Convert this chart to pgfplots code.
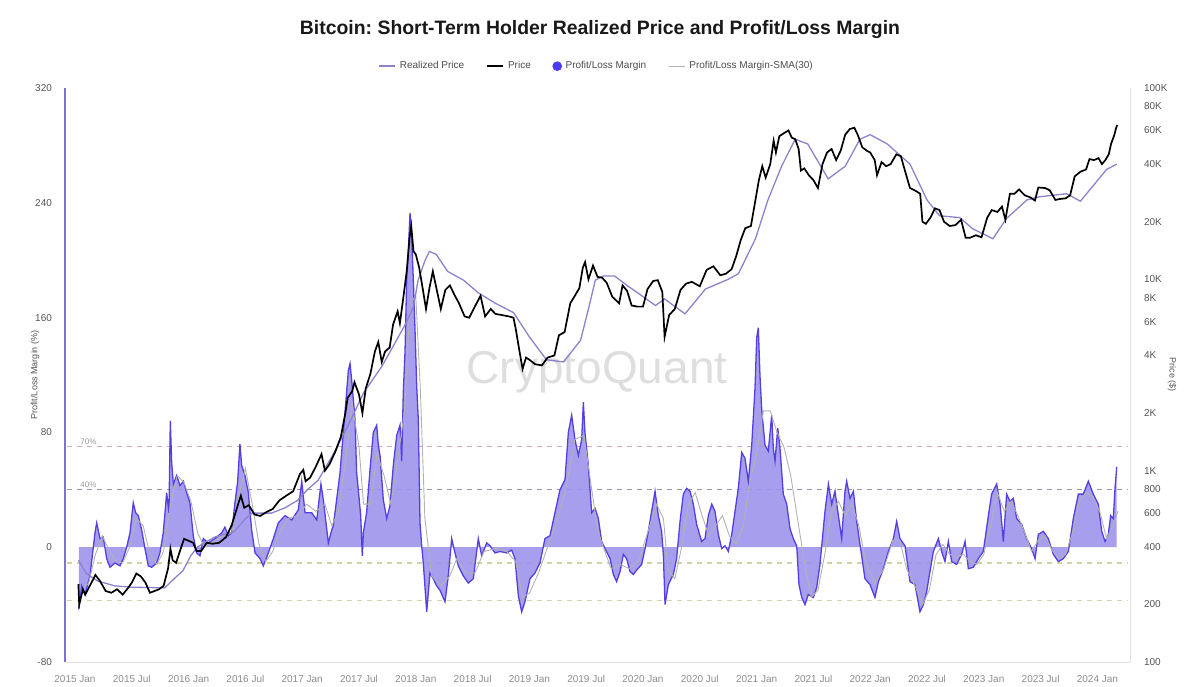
\documentclass[border=0pt]{standalone}
\usepackage{pgfplots}
\pgfplotsset{compat=1.18}
\usepackage{fontspec}
\setmainfont{Liberation Sans}
\setsansfont{Liberation Sans}
\frenchspacing

\definecolor{plfill}{RGB}{158,148,236}
\definecolor{plline}{RGB}{84,64,226}
\definecolor{plmark}{RGB}{74,60,240}
\definecolor{rpline}{RGB}{140,130,205}
\definecolor{smaline}{RGB}{178,178,178}
\definecolor{axisleft}{RGB}{124,114,218}
\definecolor{ticktext}{RGB}{85,85,85}
\definecolor{gridc}{RGB}{242,242,245}
\definecolor{lvlhigh}{RGB}{218,170,178}
\definecolor{lvlmid}{RGB}{150,146,178}
\definecolor{lvllow}{RGB}{206,214,168}

% Profit/Loss margin (%) by decimal year
\pgfplotstableread{
t v
2015.035 -43
2015.059 -27
2015.088 -33
2015.132 -20
2015.176 10
2015.191 17
2015.220 6
2015.249 7
2015.279 -8
2015.308 -14
2015.352 -11
2015.396 -13
2015.425 -8
2015.455 0
2015.484 10
2015.513 31
2015.534 24
2015.557 22
2015.587 12
2015.616 -1
2015.645 -13
2015.675 -14
2015.719 -11
2015.748 -4
2015.777 10
2015.807 38
2015.827 24
2015.839 88
2015.851 59
2015.866 44
2015.895 50
2015.924 43
2015.954 46
2015.983 38
2016.012 31
2016.041 8
2016.071 -4
2016.100 -6
2016.129 6
2016.173 3
2016.232 6
2016.291 10
2016.320 14
2016.350 8
2016.379 10
2016.408 31
2016.432 46
2016.452 72
2016.467 57
2016.496 50
2016.526 38
2016.555 12
2016.585 -4
2016.629 -8
2016.658 -13
2016.702 -4
2016.746 6
2016.790 17
2016.849 22
2016.908 19
2016.966 26
2016.996 46
2017.025 24
2017.084 24
2017.128 19
2017.165 44
2017.186 33
2017.230 3
2017.260 12
2017.274 15
2017.303 33
2017.333 52
2017.362 80
2017.391 108
2017.406 123
2017.421 128
2017.435 117
2017.450 103
2017.465 89
2017.479 52
2017.494 40
2017.515 22
2017.529 -6
2017.538 10
2017.567 24
2017.597 54
2017.626 80
2017.656 85
2017.670 71
2017.685 64
2017.714 33
2017.744 20
2017.773 29
2017.802 57
2017.832 78
2017.861 85
2017.876 60
2017.890 108
2017.905 136
2017.920 187
2017.934 206
2017.949 233
2017.964 215
2017.978 187
2017.993 152
2018.008 112
2018.022 89
2018.037 17
2018.052 1
2018.066 -11
2018.096 -45
2018.125 -18
2018.154 -22
2018.184 -27
2018.213 -30
2018.257 -38
2018.286 -20
2018.316 6
2018.345 -4
2018.374 -13
2018.418 -20
2018.462 -25
2018.506 -22
2018.550 6
2018.580 -6
2018.624 3
2018.653 1
2018.697 -4
2018.741 -3
2018.800 -4
2018.844 -2
2018.873 -8
2018.903 -34
2018.932 -45
2018.961 -38
2019.005 -22
2019.049 -18
2019.093 -11
2019.137 6
2019.181 8
2019.225 24
2019.269 40
2019.313 47
2019.343 80
2019.372 92
2019.401 75
2019.431 64
2019.460 75
2019.475 101
2019.489 80
2019.519 57
2019.548 24
2019.578 27
2019.607 20
2019.636 4
2019.666 -1
2019.710 -8
2019.739 -19
2019.768 -24
2019.798 -17
2019.827 -5
2019.856 -8
2019.886 -17
2019.915 -19
2019.944 -16
2019.988 -12
2020.018 -1
2020.047 11
2020.076 25
2020.106 39
2020.135 22
2020.164 11
2020.179 -5
2020.194 -40
2020.223 -26
2020.267 -19
2020.296 -8
2020.326 18
2020.355 37
2020.384 41
2020.414 39
2020.443 30
2020.472 16
2020.516 4
2020.546 6
2020.575 22
2020.605 30
2020.634 25
2020.663 9
2020.693 -1
2020.722 1
2020.751 -3
2020.781 9
2020.810 25
2020.839 41
2020.869 66
2020.898 62
2020.927 46
2020.957 71
2020.986 111
2021.001 146
2021.015 153
2021.030 119
2021.045 96
2021.074 71
2021.103 67
2021.133 92
2021.147 69
2021.162 60
2021.186 83
2021.206 69
2021.235 37
2021.265 30
2021.294 13
2021.323 6
2021.353 1
2021.373 -26
2021.397 -35
2021.426 -40
2021.455 -33
2021.500 -35
2021.529 -28
2021.558 -12
2021.602 25
2021.632 44
2021.661 30
2021.690 39
2021.720 22
2021.749 6
2021.778 39
2021.793 46
2021.822 34
2021.852 39
2021.881 18
2021.910 2
2021.954 -22
2021.998 -26
2022.042 -35
2022.072 -24
2022.116 -15
2022.160 -3
2022.204 6
2022.233 18
2022.262 6
2022.306 1
2022.350 -24
2022.394 -26
2022.438 -45
2022.468 -40
2022.497 -31
2022.526 -17
2022.556 -3
2022.600 6
2022.629 -3
2022.658 -10
2022.688 4
2022.717 -10
2022.761 -12
2022.805 -5
2022.835 4
2022.864 -15
2022.908 -14
2022.952 -8
2022.996 -3
2023.040 22
2023.069 37
2023.113 44
2023.143 30
2023.172 4
2023.201 37
2023.231 32
2023.260 34
2023.289 20
2023.333 16
2023.377 6
2023.421 -1
2023.451 -8
2023.480 9
2023.524 11
2023.568 6
2023.612 -5
2023.656 -10
2023.700 -8
2023.744 -3
2023.788 20
2023.832 37
2023.876 37
2023.920 46
2023.964 37
2024.008 30
2024.038 11
2024.067 4
2024.096 9
2024.117 22
2024.140 20
2024.155 41
2024.170 56
}\margin

% 30-day moving average of the margin
\pgfplotstableread{
t v
2015.06 -30
2015.12 -25
2015.18 -5
2015.24 8
2015.30 -2
2015.36 -10
2015.42 -11
2015.48 0
2015.54 20
2015.60 15
2015.66 -5
2015.72 -12
2015.78 -3
2015.84 30
2015.90 50
2015.96 45
2016.02 32
2016.08 10
2016.14 0
2016.22 4
2016.30 8
2016.38 10
2016.44 35
2016.50 55
2016.56 30
2016.62 2
2016.68 -10
2016.74 -3
2016.80 10
2016.88 20
2016.96 22
2017.04 30
2017.12 25
2017.20 30
2017.26 15
2017.32 25
2017.38 60
2017.44 100
2017.50 70
2017.54 30
2017.60 30
2017.66 65
2017.72 50
2017.78 30
2017.84 60
2017.90 95
2017.95 170
2018.00 175
2018.04 110
2018.08 20
2018.14 -20
2018.22 -27
2018.30 -20
2018.36 -8
2018.44 -18
2018.52 -18
2018.60 -3
2018.70 -1
2018.80 -3
2018.88 -10
2018.94 -35
2019.00 -32
2019.08 -18
2019.16 0
2019.24 18
2019.32 40
2019.40 75
2019.48 78
2019.54 45
2019.60 12
2019.66 -2
2019.72 -15
2019.80 -12
2019.88 -15
2019.96 -10
2020.04 10
2020.12 30
2020.18 20
2020.22 -15
2020.28 -22
2020.34 0
2020.40 30
2020.46 38
2020.52 22
2020.58 8
2020.64 15
2020.70 22
2020.76 8
2020.82 2
2020.88 15
2020.94 45
2021.00 65
2021.06 95
2021.12 95
2021.18 80
2021.24 70
2021.30 50
2021.36 20
2021.42 -10
2021.48 -35
2021.54 -30
2021.60 -5
2021.66 25
2021.72 32
2021.78 22
2021.84 30
2021.90 15
2021.96 -10
2022.04 -25
2022.12 -15
2022.20 5
2022.26 5
2022.32 -15
2022.40 -28
2022.46 -40
2022.52 -30
2022.58 -5
2022.64 2
2022.70 -5
2022.76 -7
2022.82 -5
2022.88 -10
2022.94 -12
2023.00 -5
2023.06 15
2023.12 38
2023.18 25
2023.24 32
2023.30 22
2023.36 10
2023.42 -3
2023.48 5
2023.54 8
2023.60 -2
2023.66 -8
2023.72 -5
2023.78 10
2023.84 32
2023.90 38
2023.96 35
2024.02 25
2024.08 6
2024.14 15
2024.18 25
}\sma

% BTC price (USD)
\pgfplotstableread{
t p
2015.03 255
2015.037 200
2015.05 215
2015.07 240
2015.09 225
2015.13 250
2015.18 285
2015.22 265
2015.27 235
2015.32 230
2015.37 240
2015.42 225
2015.47 245
2015.50 260
2015.54 290
2015.58 280
2015.62 260
2015.66 230
2015.70 235
2015.74 240
2015.78 250
2015.82 310
2015.84 390
2015.86 340
2015.89 330
2015.93 390
2015.96 440
2016.00 430
2016.04 420
2016.07 380
2016.11 380
2016.16 420
2016.21 415
2016.27 420
2016.33 450
2016.38 520
2016.44 680
2016.46 740
2016.49 640
2016.53 660
2016.58 590
2016.63 580
2016.69 610
2016.74 630
2016.80 700
2016.86 740
2016.92 780
2016.98 960
2017.01 1010
2017.03 880
2017.07 920
2017.12 1050
2017.17 1220
2017.20 1000
2017.24 1080
2017.29 1250
2017.34 1500
2017.38 2000
2017.40 2400
2017.44 2600
2017.46 2900
2017.50 2500
2017.53 2000
2017.56 2700
2017.60 3200
2017.64 4200
2017.67 4700
2017.70 3700
2017.73 4200
2017.77 4400
2017.80 5800
2017.84 6800
2017.86 5900
2017.89 8000
2017.92 11000
2017.945 16500
2017.96 19000
2017.98 14000
2018.00 13500
2018.03 11500
2018.06 9000
2018.09 7000
2018.12 9000
2018.15 11000
2018.19 8500
2018.22 7000
2018.26 8800
2018.30 9300
2018.34 8300
2018.38 7500
2018.43 6400
2018.47 6300
2018.53 7400
2018.57 8200
2018.61 6400
2018.66 7000
2018.70 6600
2018.76 6500
2018.82 6400
2018.86 6300
2018.88 5500
2018.91 4300
2018.94 3400
2018.97 3900
2019.00 3800
2019.05 3600
2019.11 3550
2019.16 3900
2019.22 4000
2019.26 5100
2019.31 5300
2019.36 7500
2019.40 8200
2019.44 9000
2019.47 11500
2019.49 12300
2019.52 10000
2019.56 11800
2019.60 10300
2019.64 10200
2019.68 9600
2019.73 8100
2019.79 7500
2019.82 9300
2019.86 8700
2019.90 7300
2019.95 7200
2020.00 7200
2020.04 8900
2020.09 9800
2020.13 9900
2020.17 8600
2020.19 5000
2020.23 6500
2020.28 7000
2020.33 8800
2020.38 9500
2020.43 9700
2020.50 9200
2020.56 11200
2020.62 11700
2020.68 10500
2020.73 10700
2020.78 11300
2020.82 13200
2020.86 16000
2020.90 18500
2020.95 19000
2020.99 26000
2021.02 33000
2021.05 39000
2021.08 34000
2021.12 40000
2021.15 53000
2021.17 46000
2021.20 56000
2021.24 58000
2021.28 60000
2021.31 55000
2021.34 54000
2021.37 48000
2021.39 37000
2021.42 38000
2021.46 35000
2021.50 33000
2021.54 30000
2021.58 40000
2021.62 46000
2021.66 48000
2021.70 42000
2021.74 47000
2021.78 57000
2021.82 61000
2021.86 62000
2021.89 57000
2021.93 49000
2021.97 47000
2022.00 46000
2022.04 42000
2022.06 35000
2022.10 41000
2022.14 39000
2022.18 40000
2022.23 45000
2022.27 44000
2022.30 38000
2022.35 30000
2022.40 29000
2022.44 28000
2022.46 20000
2022.49 19500
2022.53 21000
2022.57 23500
2022.61 23000
2022.65 20000
2022.70 19000
2022.75 19200
2022.80 20500
2022.84 16500
2022.88 16500
2022.93 17000
2022.98 16600
2023.03 21000
2023.07 23000
2023.12 22500
2023.16 24000
2023.19 20500
2023.23 28000
2023.27 28000
2023.31 29500
2023.36 27500
2023.41 26800
2023.45 25800
2023.48 30200
2023.54 30000
2023.58 29200
2023.63 26000
2023.67 26300
2023.72 26500
2023.76 27500
2023.80 34500
2023.85 36500
2023.90 37500
2023.93 42500
2023.97 42000
2024.01 43000
2024.04 40000
2024.07 42000
2024.10 45000
2024.12 51000
2024.15 57000
2024.165 62000
2024.175 64000
}\price

% Short-term holder realized price (USD)
\pgfplotstableread{
t p
2015.03 340
2015.10 290
2015.20 265
2015.35 250
2015.50 246
2015.65 245
2015.79 244
2015.88 275
2015.95 300
2016.02 360
2016.08 400
2016.23 450
2016.40 480
2016.50 560
2016.56 600
2016.73 600
2016.85 640
2016.96 700
2017.05 800
2017.14 890
2017.26 1180
2017.40 1700
2017.54 2550
2017.70 3500
2017.83 4800
2017.92 6000
2017.98 7200
2018.02 9900
2018.08 12500
2018.12 14000
2018.18 13500
2018.28 11000
2018.42 9900
2018.55 8500
2018.70 7500
2018.86 6700
2019.00 5000
2019.15 3800
2019.30 3700
2019.45 4800
2019.52 7000
2019.58 9900
2019.65 10400
2019.75 10400
2019.87 9200
2020.11 7300
2020.19 7900
2020.37 6600
2020.55 8900
2020.75 10000
2020.84 10700
2020.99 16300
2021.10 26000
2021.22 39000
2021.34 54000
2021.45 51000
2021.63 33500
2021.78 39000
2021.91 54000
2022.00 57000
2022.15 51000
2022.35 40000
2022.50 26000
2022.61 21500
2022.79 21000
2022.90 18400
2023.08 16300
2023.20 20800
2023.38 26000
2023.49 27000
2023.73 28000
2023.85 25600
2023.96 30700
2024.08 37500
2024.17 40000
}\realized

\pgfplotsset{
  base/.style={
    scale only axis, width=532.5pt, height=287pt,
    at={(32.5pt,12pt)}, anchor=south west,
    xmin=2014.912, xmax=2024.287,
    major tick length=0pt,
    tick label style={font=\fontsize{5}{6}\selectfont, text=ticktext},
    /pgf/number format/assume math mode=true,
  },
  shortline/.style={legend image code/.code={\draw[##1] (0pt,0pt) -- (8pt,0pt);}},
}

\begin{document}
\begin{tikzpicture}
\useasboundingbox (0,0) rectangle (600pt,343pt);

% faint price grid, kept behind everything
\begin{axis}[base,
  ymode=log, ymin=100, ymax=100000,
  ytick={100,200,400,600,800,1000,2000,4000,6000,8000,10000,20000,40000,60000,80000,100000},
  axis x line=none, axis y line=none,
  yticklabels={}, ymajorgrids,
  major grid style={draw=gridc, line width=0.4pt},
]
\addplot[draw=none, forget plot] coordinates {(2015,1000) (2024,1000)};
\end{axis}

% watermark
\node[text=black!13, font=\fontsize{23}{23}\selectfont] at (298.5pt,157pt) {CryptoQuant};

% title
\node[font=\bfseries\fontsize{9.7}{11}\selectfont, text=black!90] at (300pt,328pt)
  {Bitcoin: Short-Term Holder Realized Price and Profit/Loss Margin};

% axis titles
\node[rotate=90, font=\fontsize{4.5}{5}\selectfont, text=ticktext] at (17.5pt,155.5pt) {Profit/Loss Margin (\%)};
\node[rotate=-90, font=\fontsize{4.5}{5}\selectfont, text=ticktext] at (586pt,155.5pt) {Price (\$)};

% left axis: profit/loss margin
\begin{axis}[base,
  ymin=-80, ymax=320,
  ytick={-80,0,80,160,240,320},
  axis x line*=bottom, axis y line*=left,
  x axis line style={draw=black!12, -},
  y axis line style={draw=axisleft, line width=1pt, -},
  xtick={2015,2015.5,2016,2016.5,2017,2017.5,2018,2018.5,2019,2019.5,2020,2020.5,2021,2021.5,2022,2022.5,2023,2023.5,2024},
  xticklabels={2015 Jan,2015 Jul,2016 Jan,2016 Jul,2017 Jan,2017 Jul,2018 Jan,2018 Jul,2019 Jan,2019 Jul,2020 Jan,2020 Jul,2021 Jan,2021 Jul,2022 Jan,2022 Jul,2023 Jan,2023 Jul,2024 Jan},
  xticklabel style={yshift=-3pt, text=black!45},
  yticklabel style={xshift=-3pt},
]
% reference levels
\addplot[lvlhigh, line width=0.55pt, dash pattern=on 2.5pt off 2.5pt] coordinates {(2014.93,70) (2024.27,70)};
\addplot[lvlmid, line width=0.55pt, dash pattern=on 2.5pt off 2.5pt] coordinates {(2014.93,40) (2024.27,40)};
\addplot[lvllow, line width=0.55pt, dash pattern=on 2.5pt off 2.5pt] coordinates {(2014.93,-11) (2024.27,-11)};
\addplot[lvllow, line width=0.55pt, dash pattern=on 2.5pt off 2.5pt] coordinates {(2014.93,-37) (2024.27,-37)};
\node[anchor=south west, inner sep=0.8pt, text=black!40, font=\fontsize{4}{4}\selectfont] at (axis cs:2015.03,70) {70\%};
\node[anchor=south west, inner sep=0.8pt, text=black!40, font=\fontsize{4}{4}\selectfont] at (axis cs:2015.03,40) {40\%};
% margin area and outline
\addplot[draw=none, fill=plfill, fill opacity=0.9] table[x=t, y=v] {\margin} \closedcycle;
\addplot[plline, line width=0.65pt] table[x=t, y=v] {\margin};
\addplot[smaline, line width=0.45pt] table[x=t, y=v] {\sma};
\end{axis}

% right axis: prices on a log scale
\begin{axis}[base,
  ymode=log, ymin=100, ymax=100000,
  ytick={100,200,400,600,800,1000,2000,4000,6000,8000,10000,20000,40000,60000,80000,100000},
  axis y line*=right, axis x line=none,
  y axis line style={draw=black!12, -},
  yticklabels={100,200,400,600,800,1K,2K,4K,6K,8K,10K,20K,40K,60K,80K,100K},
  yticklabel style={xshift=3.5pt, anchor=west},
  legend columns=4,
  legend style={at={(0.5,1.038)}, anchor=center, draw=none, fill=none,
    font=\fontsize{5}{6}\selectfont, text=black!70,
    /tikz/every even column/.append style={column sep=9pt}},
]
\addplot[rpline, line width=0.65pt, forget plot] table[x=t, y=p] {\realized};
\addplot[black, line width=0.85pt, forget plot] table[x=t, y=p] {\price};
\addlegendimage{shortline, rpline, line width=0.8pt}
\addlegendentry{Realized Price}
\addlegendimage{shortline, black, line width=0.9pt}
\addlegendentry{Price}
\addlegendimage{only marks, mark=*, mark size=2.2pt, plmark}
\addlegendentry{Profit/Loss Margin}
\addlegendimage{shortline, smaline, line width=0.6pt}
\addlegendentry{Profit/Loss Margin-SMA(30)}
\end{axis}
\end{tikzpicture}
\end{document}
